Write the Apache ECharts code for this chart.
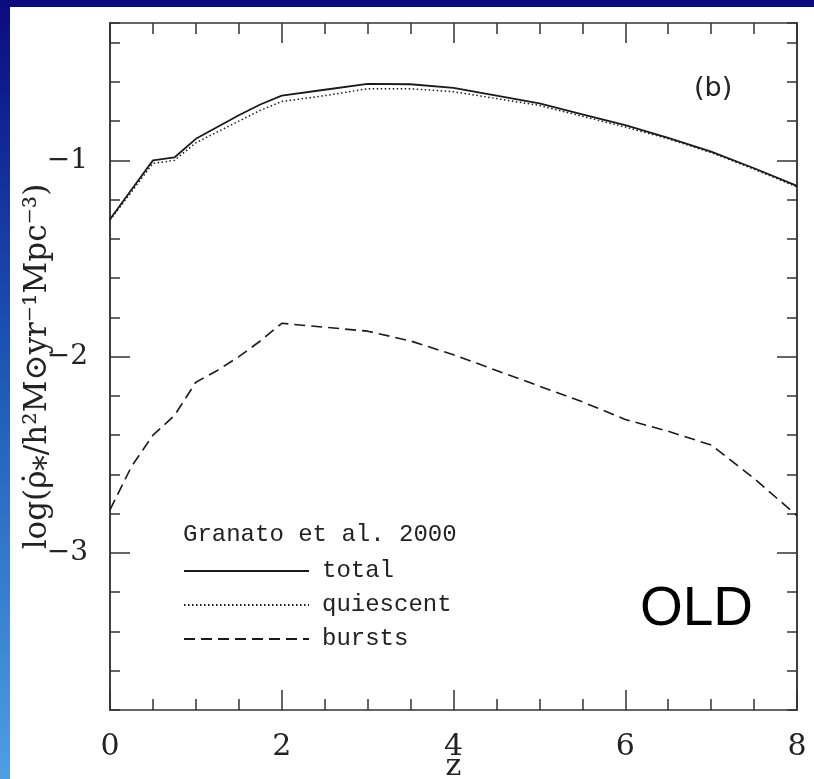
<!DOCTYPE html>
<html>
<head>
<meta charset="utf-8">
<script src="https://cdn.jsdelivr.net/npm/echarts@6/dist/echarts.min.js"></script>
<style>
html,body{margin:0;padding:0;background:#fff;}
#chart{width:814px;height:779px;}
</style>
</head>
<body>
<div id="chart"></div>
<script>
const zValues   = [0, 0.25, 0.5, 0.75, 1.0, 1.25, 1.5, 1.75, 2.0, 2.5, 3.0, 3.5, 4.0, 4.5, 5.0, 5.5, 6.0, 6.5, 7.0, 7.5, 8.0];
const total     = [-1.30, -1.15, -1.00, -0.985, -0.89, -0.83, -0.77, -0.715, -0.67, -0.64, -0.61, -0.612, -0.63, -0.67, -0.71, -0.765, -0.82, -0.885, -0.955, -1.04, -1.13];
const quiescent = [-1.305, -1.16, -1.015, -1.0, -0.91, -0.855, -0.80, -0.745, -0.70, -0.67, -0.635, -0.635, -0.65, -0.685, -0.72, -0.775, -0.83, -0.89, -0.96, -1.045, -1.135];
const bursts    = [-2.78, -2.56, -2.40, -2.30, -2.13, -2.07, -2.00, -1.92, -1.83, -1.85, -1.87, -1.92, -1.99, -2.07, -2.15, -2.23, -2.32, -2.38, -2.45, -2.62, -2.81];
const xTickLabels = [0, 2, 4, 6, 8];
const yTickLabels = [-3, -2, -1];
const seriesNames = ['total', 'quiescent', 'bursts'];

const chart = echarts.init(document.getElementById('chart'), null, {renderer: 'canvas'});
const axisColor = '#333';
const serif = '"DejaVu Serif", "Liberation Serif", serif';
const mono = '"Liberation Mono", "DejaVu Sans Mono", monospace';

function pairs(arr) { return zValues.map((z, i) => [z, arr[i]]); }

const yBase = {
  type: 'value', min: -3.8, max: -0.3,
  axisLine: {show: true, lineStyle: {color: axisColor, width: 1.5}},
  splitLine: {show: false}
};

chart.setOption({
  backgroundColor: '#ffffff',
  animation: false,
  grid: {left: 110, right: 17, top: 23, bottom: 69, containLabel: false, outerBoundsMode: 'none'},
  title: {
    text: 'Granato et al. 2000', left: 178, top: 518,
    textStyle: {fontFamily: mono, fontSize: 24, fontWeight: 'normal', color: '#222'}
  },
  legend: {
    data: seriesNames, orient: 'vertical', left: 178, top: 554,
    itemWidth: 125, itemHeight: 14, itemGap: 10,
    itemStyle: {color: 'rgba(0,0,0,0)', borderWidth: 0},
    textStyle: {fontFamily: mono, fontSize: 24, color: '#222', lineHeight: 24, padding: [0, 0, 0, 8]},
    selectedMode: false
  },
  xAxis: [
    {
      type: 'value', min: 0, max: 8, interval: 2, position: 'bottom',
      axisLine: {show: true, onZero: false, lineStyle: {color: axisColor, width: 1.5}},
      axisTick: {show: true, inside: true, length: 20, lineStyle: {color: axisColor, width: 1.5}},
      minorTick: {show: true, splitNumber: 4, length: 11, lineStyle: {color: axisColor, width: 1.5}},
      axisLabel: {fontFamily: serif, fontSize: 30, color: '#222', margin: 22,
        formatter: v => xTickLabels.includes(Math.round(v)) ? String(Math.round(v)) : ''},
      splitLine: {show: false}, minorSplitLine: {show: false},
      name: 'z', nameLocation: 'middle', nameGap: 42, nameMoveOverlap: false,
      nameTextStyle: {fontFamily: serif, fontSize: 30, color: '#222'}
    },
    {
      type: 'value', min: 0, max: 8, interval: 2, position: 'top',
      axisLine: {show: true, onZero: false, lineStyle: {color: axisColor, width: 1.5}},
      axisTick: {show: true, inside: true, length: 20, lineStyle: {color: axisColor, width: 1.5}},
      minorTick: {show: true, splitNumber: 4, length: 11, lineStyle: {color: axisColor, width: 1.5}},
      axisLabel: {show: false}, splitLine: {show: false}
    }
  ],
  yAxis: [
    Object.assign({}, yBase, {
      position: 'left', interval: 0.2,
      axisTick: {show: true, inside: true, length: 10, lineStyle: {color: axisColor, width: 1.5}},
      axisLabel: {show: false},
      name: 'log(ρ̇⁎/h²M⊙yr⁻¹Mpc⁻³)', nameLocation: 'middle', nameGap: 57, nameRotate: 90, nameMoveOverlap: false,
      nameTextStyle: {fontFamily: serif, fontSize: 31, color: '#222'}
    }),
    Object.assign({}, yBase, {
      position: 'left',
      axisTick: {show: true, inside: true, length: 20, customValues: yTickLabels, lineStyle: {color: axisColor, width: 1.5}},
      axisLabel: {show: true, customValues: yTickLabels, fontFamily: serif, fontSize: 28, color: '#222', margin: 22,
        formatter: v => '−' + Math.abs(Math.round(v))}
    }),
    Object.assign({}, yBase, {
      position: 'right', interval: 0.2,
      axisTick: {show: true, inside: true, length: 10, lineStyle: {color: axisColor, width: 1.5}},
      axisLabel: {show: false}
    }),
    Object.assign({}, yBase, {
      position: 'right',
      axisTick: {show: true, inside: true, length: 20, customValues: yTickLabels, lineStyle: {color: axisColor, width: 1.5}},
      axisLabel: {show: false}
    })
  ],
  graphic: [
    {type: 'rect', z: 100, shape: {x: 0, y: 0, width: 814, height: 7}, style: {fill: '#0b0b7c'}},
    {type: 'rect', z: 100, shape: {x: 0, y: 0, width: 10, height: 779},
      style: {fill: new echarts.graphic.LinearGradient(0, 0, 0, 1, [
        {offset: 0, color: '#0b0b80'}, {offset: 0.5, color: '#1f5cb8'}, {offset: 1, color: '#4d9fe2'}])}},
    {type: 'text', left: 694, top: 75, style: {text: '(b)', font: '27px "DejaVu Sans", sans-serif', fill: '#222'}},
    {type: 'text', left: 640, top: 582, style: {text: 'OLD', font: '55px "Liberation Sans", Arial, sans-serif', fill: '#000'}}
  ],
  series: [
    {name: 'total', type: 'line', xAxisIndex: 0, yAxisIndex: 0, symbol: 'none', data: pairs(total),
      lineStyle: {color: '#1a1a1a', width: 1.8, type: 'solid'}},
    {name: 'quiescent', type: 'line', xAxisIndex: 0, yAxisIndex: 0, symbol: 'none', data: pairs(quiescent),
      lineStyle: {color: '#1a1a1a', width: 1.5, type: [1.5, 2.5]}},
    {name: 'bursts', type: 'line', xAxisIndex: 0, yAxisIndex: 0, symbol: 'none', data: pairs(bursts),
      lineStyle: {color: '#1a1a1a', width: 1.6, type: [11, 6]}}
  ]
});
</script>
</body>
</html>
